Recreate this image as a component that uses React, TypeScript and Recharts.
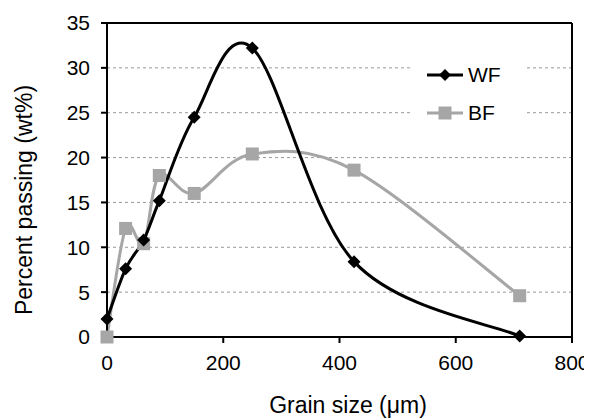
import React from 'react';
import { LineChart, Line, XAxis, YAxis, CartesianGrid, ReferenceLine, Label } from 'recharts';

const grainSize = [0, 32, 63, 90, 150, 250, 425, 710];
const wfValues = [2.0, 7.6, 10.8, 15.2, 24.5, 32.2, 8.4, 0.1];
const bfValues = [0.0, 12.1, 10.4, 18.0, 16.0, 20.4, 18.6, 4.6];
const xTicks = [0, 200, 400, 600, 800];
const yTicks = [0, 5, 10, 15, 20, 25, 30, 35];

const data = grainSize.map((x, i) => ({ x, wf: wfValues[i], bf: bfValues[i] }));

const FONT = '"Liberation Sans", Arial, sans-serif';
const GRAY = '#a6a6a6';

// Excel-like smoothed line (Catmull-Rom, 1/6 control points)
const smoothCurve = (context: any) => {
  let pts: number[][] = [];
  return {
    areaStart() {},
    areaEnd() {},
    lineStart() {
      pts = [];
    },
    point(x: number, y: number) {
      pts.push([+x, +y]);
    },
    lineEnd() {
      if (!pts.length) return;
      context.moveTo(pts[0][0], pts[0][1]);
      for (let i = 0; i < pts.length - 1; i++) {
        const p0 = pts[i - 1] || pts[i];
        const p1 = pts[i];
        const p2 = pts[i + 1];
        const p3 = pts[i + 2] || pts[i + 1];
        context.bezierCurveTo(
          p1[0] + (p2[0] - p0[0]) / 6,
          p1[1] + (p2[1] - p0[1]) / 6,
          p2[0] - (p3[0] - p1[0]) / 6,
          p2[1] - (p3[1] - p1[1]) / 6,
          p2[0],
          p2[1]
        );
      }
    },
  };
};

const Diamond = (props: any) => {
  const { cx, cy, index } = props;
  if (cx == null || cy == null) return <g key={index} />;
  const r = 6.5;
  return (
    <polygon
      key={index}
      points={`${cx},${cy - r} ${cx + r},${cy} ${cx},${cy + r} ${cx - r},${cy}`}
      fill="#000"
    />
  );
};

const Square = (props: any) => {
  const { cx, cy, index } = props;
  if (cx == null || cy == null) return <g key={index} />;
  const s = 13;
  return <rect key={index} x={cx - s / 2} y={cy - s / 2} width={s} height={s} fill={GRAY} />;
};

const legendItems = [
  { name: 'WF', color: '#000', square: false },
  { name: 'BF', color: GRAY, square: true },
];

const LegendBox = () => (
  <div
    style={{
      position: 'absolute',
      left: 410,
      top: 56,
      width: 115,
      height: 76,
      background: '#fff',
      fontFamily: FONT,
      fontSize: 21,
      color: '#000',
    }}
  >
    {legendItems.map((item, i) => (
      <div
        key={item.name}
        style={{ position: 'absolute', left: 17, top: 19 + i * 38 - 10, height: 20, display: 'flex', alignItems: 'center' }}
      >
        <svg width={36} height={20} style={{ display: 'block' }}>
          <line x1={0} y1={10} x2={36} y2={10} stroke={item.color} strokeWidth={3} />
          {item.square ? (
            <rect x={11.5} y={3.5} width={13} height={13} fill={item.color} />
          ) : (
            <polygon points="18,4 24,10 18,16 12,10" fill={item.color} />
          )}
        </svg>
        <span style={{ marginLeft: 5, lineHeight: '20px' }}>{item.name}</span>
      </div>
    ))}
  </div>
);

export default function App() {
  return (
    <div style={{ position: 'relative', marginLeft: -8, marginTop: -8, width: 592, height: 420 }}>
      <LineChart width={592} height={420} data={data} margin={{ top: 23, right: 20, left: 0, bottom: 0 }}>
        <CartesianGrid horizontal vertical={false} stroke="#999" strokeDasharray="3 3" />
        <XAxis
          type="number"
          dataKey="x"
          domain={[0, 800]}
          ticks={xTicks}
          height={83}
          tick={{ fill: '#000', fontSize: 21, fontFamily: FONT }}
          tickMargin={12}
          tickSize={6}
          stroke="#000"
          strokeWidth={2}
        >
          <Label
            content={() => (
              <text x={348} y={413} textAnchor="middle" fontSize={23} fontFamily={FONT} fill="#000">
                Grain size (μm)
              </text>
            )}
          />
        </XAxis>
        <YAxis
          type="number"
          domain={[0, 35]}
          ticks={yTicks}
          width={107}
          tick={{ fill: '#000', fontSize: 21, fontFamily: FONT }}
          tickMargin={11}
          tickSize={6}
          stroke="#000"
          strokeWidth={2}
        >
          <Label
            content={() => (
              <text
                x={24}
                y={200}
                textAnchor="middle"
                dominantBaseline="central"
                transform="rotate(-90 24 200)"
                fontSize={23}
                fontFamily={FONT}
                fill="#000"
              >
                Percent passing (wt%)
              </text>
            )}
          />
        </YAxis>
        <ReferenceLine y={35} stroke="#000" strokeWidth={2} />
        <ReferenceLine x={800} stroke="#000" strokeWidth={2} />
        <Line
          dataKey="bf"
          type={smoothCurve as any}
          stroke={GRAY}
          strokeWidth={3}
          dot={Square}
          activeDot={false}
          isAnimationActive={false}
        />
        <Line
          dataKey="wf"
          type={smoothCurve as any}
          stroke="#000"
          strokeWidth={3}
          dot={Diamond}
          activeDot={false}
          isAnimationActive={false}
        />
      </LineChart>
      <LegendBox />
    </div>
  );
}
